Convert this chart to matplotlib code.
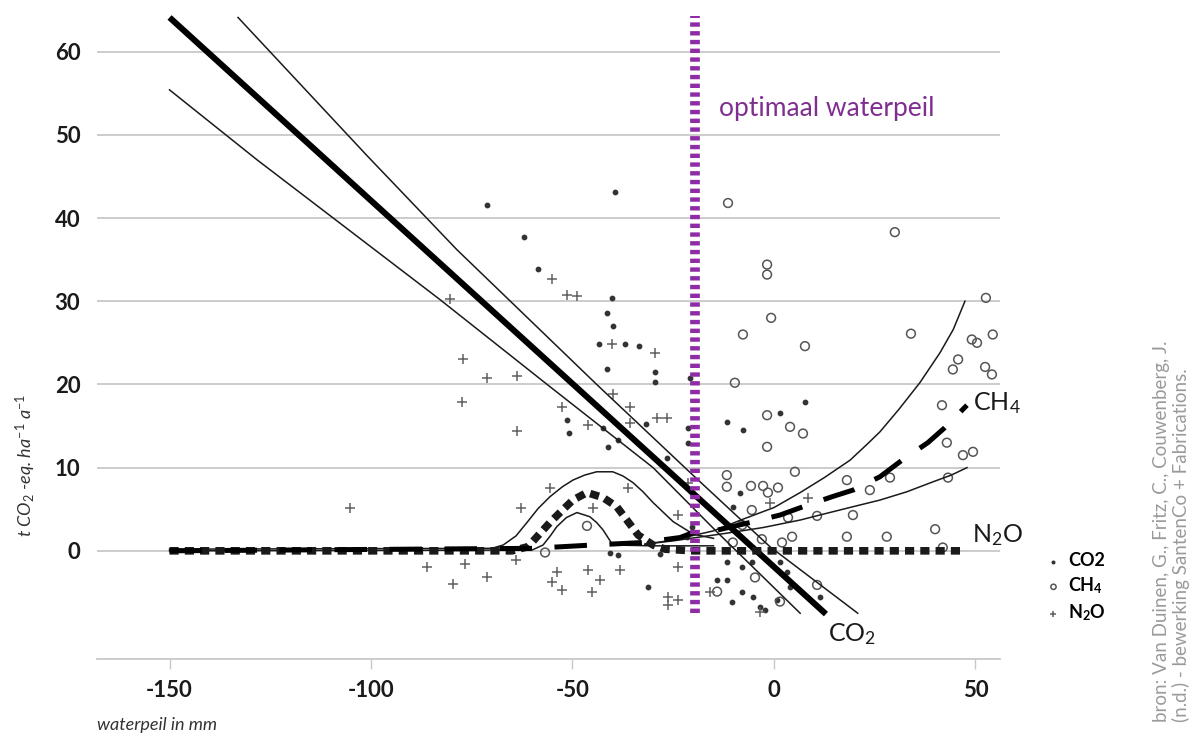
import matplotlib
matplotlib.use("Agg")
import matplotlib.pyplot as plt

plt.rcParams["font.family"] = ["Lato", "DejaVu Sans"]
plt.rcParams["mathtext.fontset"] = "custom"
plt.rcParams["mathtext.rm"] = "Lato"
plt.rcParams["mathtext.it"] = "Lato:italic"
plt.rcParams["mathtext.bf"] = "Lato:bold"
plt.rcParams["axes.unicode_minus"] = False

# measured points (waterpeil in mm, t CO2-eq per ha per year)
co2_x = [-39.5, -71.2, -62.0, -58.6, -40.2, -41.4, -40.0, -43.4, -37.0, -33.5,
         -29.5, -29.5, -41.4, -51.4, -50.9, -42.4, -41.2, -38.7, -31.8, -26.6,
         -21.3, -21.3, -20.8, -11.7, -7.7, 1.5, 7.7, -8.4, -10.2, -11.7,
         -14.1, -11.7, -7.9, -7.9, -10.4, -5.5, -5.2, -2.2, 0.7, 1.5,
         3.2, 4.0, -3.5, -21.6, -20.3, -28.3, -31.3, -40.7, -38.7, 11.4]
co2_y = [43.1, 41.6, 37.7, 33.9, 30.4, 28.6, 27.0, 24.9, 24.9, 24.6,
         21.5, 20.3, 21.9, 15.7, 14.2, 14.8, 12.5, 13.3, 15.3, 11.2,
         14.8, 13.0, 20.8, 15.5, 14.5, 16.6, 17.9, 7.0, 5.3, -1.4,
         -3.5, -3.5, -1.9, -4.9, -6.1, -1.4, -5.5, -7.1, -5.9, -1.4,
         -2.6, -4.3, -6.7, 1.7, 2.9, -0.4, -4.4, -0.3, -0.5, -5.5]

ch4_x = [-11.4, -1.7, -1.7, -0.7, -7.7, 7.7, -9.7, -1.7, 4.0, 7.2,
         -1.7, 5.2, -11.7, -11.7, -5.7, -2.7, -1.5, 1.0, 18.1, -5.5,
         -7.9, 3.5, 10.7, -3.0, 4.5, 18.1, -10.2, 2.0, -46.4, -56.8,
         -4.7, -14.1, 10.7, 1.5, 30.0, 34.0, 52.6, 49.1, 50.4, 54.3,
         45.7, 44.4, 52.4, 54.1, 41.7, 42.9, 46.9, 49.4, 28.8, 23.8,
         19.6, 28.0, 40.0, 41.9, 43.2]
ch4_y = [41.8, 34.4, 33.2, 28.0, 26.0, 24.6, 20.2, 16.3, 14.9, 14.1,
         12.5, 9.5, 9.1, 7.7, 7.8, 7.8, 7.0, 7.6, 8.5, 4.9,
         3.1, 4.0, 4.2, 1.4, 1.7, 1.7, 1.0, 1.0, 3.0, -0.2,
         -3.2, -4.9, -4.1, -6.1, 38.3, 26.1, 30.4, 25.4, 25.0, 26.0,
         23.0, 21.8, 22.1, 21.2, 17.5, 13.0, 11.5, 11.9, 8.8, 7.3,
         4.3, 1.7, 2.6, 0.4, 8.8]

n2o_x = [-77.2, -71.2, -63.8, -77.4, -63.8, -80.4, -55.1, -51.4, -105.2, -55.6,
         -62.8, -86.1, -76.7, -79.7, -71.2, -64.0, -53.8, -55.1, -52.6, -48.9,
         -40.2, -29.5, -40.0, -35.7, -35.7, -29.0, -26.6, -52.6, -46.2, -36.2,
         -44.9, -23.8, -21.3, -46.2, -43.2, -45.2, -38.2, -23.8, -26.3, -26.3,
         -23.8, -15.9, -3.5, 8.4, -1.0]
n2o_y = [23.0, 20.8, 21.0, 17.9, 14.4, 30.3, 32.7, 30.8, 5.2, 7.6,
         5.2, -1.9, -1.6, -4.0, -3.2, -1.1, -2.5, -3.7, -4.7, 30.6,
         24.9, 23.8, 18.8, 17.3, 15.4, 16.0, 16.0, 17.3, 15.1, 7.6,
         5.2, 4.3, 8.2, -2.3, -3.5, -5.0, -2.3, -2.0, -5.5, -6.5,
         -5.9, -4.9, -7.3, 6.4, 5.8]

# fitted curves
co2_fit_x = [-150, 12.9]
co2_fit_y = [64.1, -7.6]
co2_hi_x = [-133, -101, -78.7, -44, -21, -1, 20.8]
co2_hi_y = [64.1, 47.5, 36.2, 20, 9.5, 0.5, -7.5]
co2_lo_x = [-150, -128.3, -82.9, -56.3, -30, -14, 6.5]
co2_lo_y = [55.4, 47, 30.2, 20, 10, 2.2, -7.5]

n2o_fit_x = [-150, -65, -61, -58.8, -55.6, -53.1, -49.9, -46.4, -42.4, -39, -36.2,
             -33.7, -30, -27, -20, 47]
n2o_fit_y = [0, 0, 0.5, 1.7, 3.4, 4.6, 6.1, 7.0, 6.4, 5.3, 3.5, 1.9, 0.7, 0.2, 0, 0]
n2o_hi_x = [-150, -70, -67.2, -64, -61.3, -58.5, -55.6, -52.5, -49.9, -47, -44,
            -40, -37.5, -35, -32.5, -30, -25, -20, -15]
n2o_hi_y = [0.2, 0.3, 0.7, 1.8, 3.4, 5.1, 6.5, 7.7, 8.5, 9.1, 9.5, 9.5, 9.0,
            8.2, 7.1, 5.8, 3.5, 2.0, 1.5]
n2o_lo_x = [-150, -60, -57.3, -55.5, -53.9, -51.5, -48.9, -45.7, -44, -42.4,
            -40, -30, -15]
n2o_lo_y = [0, 0.1, 0.7, 1.8, 2.9, 4.0, 4.6, 4.1, 3.4, 2.5, 0.7, 0.6, 0.6]

ch4_fit_x = [-150, -60, -45, -32.5, -23.3, -20, -14, -6, 1.5, 7.2, 14.4, 19.6,
             26.3, 31.8, 38.2, 42.4, 47.9]
ch4_fit_y = [0, 0.3, 0.7, 1.0, 1.6, 2.2, 2.5, 3.4, 4.3, 5.3, 6.5, 7.3, 8.9, 10.9,
             13.0, 14.8, 17.5]
ch4_hi_x = [-32, -25, -15, -7.7, 0, 6.5, 12.5, 18.9, 23.1, 26.3, 31, 36.2,
            41.2, 44.5, 47.4]
ch4_hi_y = [0.8, 1.3, 2.4, 3.8, 5.2, 7.0, 8.8, 10.9, 12.8, 14.3, 17.0, 20.2,
            23.8, 26.6, 30.0]
ch4_lo_x = [-32, -25, -12, -2.7, 6.5, 13, 19.6, 26.3, 33, 39.5, 44, 47.9]
ch4_lo_y = [0.8, 1.2, 2.1, 2.8, 3.7, 4.5, 5.3, 6.1, 7.1, 8.3, 9.1, 10.0]

optimum_x = -19.5
x_ticks = [-150, -100, -50, 0, 50]
y_ticks = [0, 10, 20, 30, 40, 50, 60]

fig = plt.figure(figsize=(11.94, 7.36), dpi=100)
ax = fig.add_axes([97 / 1194, 77 / 736, 903 / 1194, 659 / 736])
ax.set_xlim(-168, 56.1)
ax.set_ylim(-13, 66.2)

for s in ["top", "right", "left"]:
    ax.spines[s].set_visible(False)
ax.spines["bottom"].set_color("#c8c8c8")
ax.spines["bottom"].set_linewidth(1.3)
ax.set_yticks(y_ticks)
ax.set_xticks(x_ticks)
ax.yaxis.grid(True, color="#c8c8c8", lw=1.3)
ax.set_axisbelow(True)
ax.tick_params(axis="y", length=0, pad=12, labelsize=16)
ax.tick_params(axis="x", length=7, color="#c8c8c8", width=1, pad=8, labelsize=16)
for lab in ax.get_xticklabels() + ax.get_yticklabels():
    lab.set_fontweight("bold")
    lab.set_color("#1a1a1a")

thin = dict(color="#1a1a1a", lw=1.1, zorder=3)
ax.plot(co2_hi_x, co2_hi_y, **thin)
ax.plot(co2_lo_x, co2_lo_y, **thin)
ax.plot(co2_fit_x, co2_fit_y, color="black", lw=4.4, solid_capstyle="butt", zorder=4)

ax.plot(n2o_hi_x, n2o_hi_y, **thin)
ax.plot(n2o_lo_x, n2o_lo_y, **thin)
ax.plot(ch4_hi_x, ch4_hi_y, **thin)
ax.plot(ch4_lo_x, ch4_lo_y, **thin)

ax.plot(n2o_fit_x, n2o_fit_y, color="#1a1a1a", lw=5.5, dashes=(1.2, 0.8), zorder=4)
ax.plot(ch4_fit_x, ch4_fit_y, color="black", lw=3.6, dashes=(6.5, 4.5), zorder=4)

ax.plot([optimum_x, optimum_x], [-7.5, 64.3], color="#8e2ca8", lw=7,
        dashes=(0.45, 0.45), zorder=5)
ax.text(-13.6, 52.2, "optimaal waterpeil", color="#7f2f8f", fontsize=19,
        va="baseline", ha="left")

ax.scatter(co2_x, co2_y, s=10, color="#333333", zorder=2, label="CO2")
ax.scatter(ch4_x, ch4_y, s=40, facecolors="none", edgecolors="#555555",
           linewidths=1.1, zorder=2, label="CH$_\\mathbf{4}$")
ax.scatter(n2o_x, n2o_y, s=60, marker="+", color="#606060", linewidths=1.1,
           zorder=2, label="N$_\\mathbf{2}$O")

ax.text(49.5, 16.9, "CH$_4$", fontsize=18, color="#1a1a1a", va="baseline")
ax.text(49.1, 1.1, "N$_2$O", fontsize=18, color="#1a1a1a", va="baseline")
ax.text(13.4, -10.9, "CO$_2$", fontsize=18, color="#1a1a1a", va="baseline")

leg = ax.legend(loc="upper left", bbox_to_anchor=(1030 / 1194, 1 - 536 / 736),
                bbox_transform=fig.transFigure, frameon=False, markerscale=0.6,
                handlelength=0.8, handletextpad=0.4, labelspacing=0.35,
                prop={"weight": "bold", "size": 13})

fig.text(26 / 1194, 1 - 465 / 736, "t CO$_2$ -eq. ha$^{-1}$ a$^{-1}$",
         rotation=90, style="italic", fontsize=13, color="#333333",
         ha="center", va="center")
fig.text(97 / 1194, 1 - 725 / 736, "waterpeil in mm", style="italic",
         fontsize=13, color="#333333", ha="left", va="center")

fig.text(1162 / 1194, 1 - 722 / 736, "bron: Van Duinen, G., Fritz, C., Couwenberg, J.",
         rotation=90, fontsize=13.5, color="#9a9a9a", ha="center", va="bottom")
fig.text(1181 / 1194, 1 - 722 / 736, "(n.d.) - bewerking SantenCo + Fabrications.",
         rotation=90, fontsize=13.5, color="#9a9a9a", ha="center", va="bottom")

fig.savefig("out.png", dpi=100)
